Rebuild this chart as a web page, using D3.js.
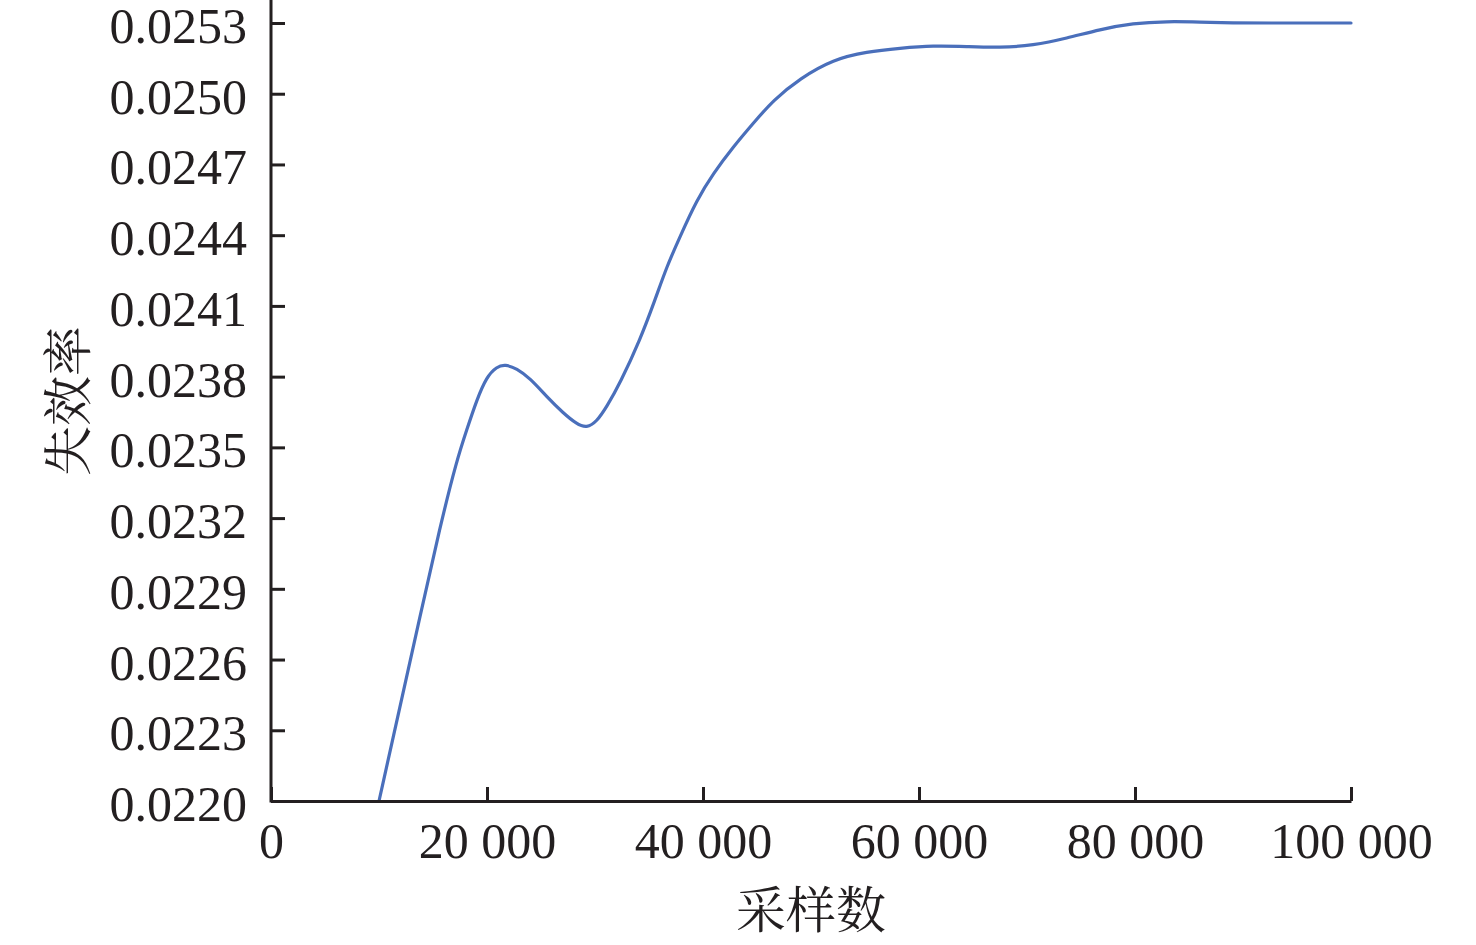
<!DOCTYPE html>
<html>
<head>
<meta charset="utf-8">
<script src="https://cdn.jsdelivr.net/npm/d3@7"></script>
<style>
  html, body { margin: 0; padding: 0; background: #fff; }
  svg { display: block; }
  .tick text { font-family: "Liberation Serif", "Times New Roman", serif; font-size: 50px; fill: #231f20; }
  .title { font-family: "Noto Serif CJK SC", "Noto Sans CJK SC", serif; font-size: 50px; fill: #231f20; }
</style>
</head>
<body>
<script>
// ---- data ----
const sampleCounts = [10000, 11944, 13796, 15648, 17194, 18120, 19046, 19972, 20898, 21667, 22750, 23981,
  25528, 27065, 28306, 29231, 30157, 31083, 32315, 34167, 35556, 36639, 37870, 39417, 40954, 42806,
  44657, 46509, 48981, 52065, 55157, 58241, 61324, 64417, 67500, 70556, 73676, 76759, 79815, 82935,
  86019, 89074, 92194, 100000];
const failureRates = [0.022000, 0.022400, 0.022782, 0.023163, 0.023445, 0.023574, 0.023701, 0.023800, 0.023842,
  0.023852, 0.023835, 0.023793, 0.023715, 0.023645, 0.023599, 0.023582, 0.023609, 0.023672, 0.023772,
  0.023955, 0.024125, 0.024266, 0.024394, 0.024549, 0.024662, 0.024775, 0.024875, 0.024973, 0.025065,
  0.025146, 0.025178, 0.025193, 0.025204, 0.025200, 0.025195, 0.025205, 0.025235, 0.025273, 0.025299,
  0.025307, 0.025304, 0.025300, 0.025300, 0.025300];
const xTickValues = [0, 20000, 40000, 60000, 80000, 100000];
const xTickLabels = ["0", "20 000", "40 000", "60 000", "80 000", "100 000"];
const yTickValues = [0.0220, 0.0223, 0.0226, 0.0229, 0.0232, 0.0235, 0.0238, 0.0241, 0.0244, 0.0247, 0.0250, 0.0253];
const yTickLabels = ["0.0220", "0.0223", "0.0226", "0.0229", "0.0232", "0.0235", "0.0238", "0.0241", "0.0244", "0.0247", "0.0250", "0.0253"];
const xTitle = "采样数";
const yTitle = "失效率";

const W = 1476, H = 945;
const mLeft = 271, mRight = 1351, mBottom = 801, mTop = 23;
const axisColor = "#231f20";
const lineColor = "#4a6fbb";

const svg = d3.select("body").append("svg").attr("width", W).attr("height", H);

const x = d3.scaleLinear().domain([0, 100000]).range([mLeft, mRight]);
const y = d3.scaleLinear().domain([0.0220, 0.0253]).range([mBottom, mTop]);

// curve
const pts = sampleCounts.map((d, i) => [d, failureRates[i]]);
const line = d3.line().x(d => x(d[0])).y(d => y(d[1])).curve(d3.curveBasis);
svg.append("path").datum(pts)
  .attr("d", line)
  .attr("fill", "none")
  .attr("stroke", lineColor)
  .attr("stroke-width", 3.2)
  .attr("stroke-linejoin", "round")
  .attr("stroke-linecap", "round");

// x axis
const xAxis = d3.axisBottom(x)
  .tickValues(xTickValues)
  .tickFormat((d, i) => xTickLabels[i])
  .tickSizeInner(-14).tickSizeOuter(0).tickPadding(21);
const gx = svg.append("g").attr("transform", `translate(0,${mBottom})`).call(xAxis);
gx.select(".domain").attr("stroke", axisColor).attr("stroke-width", 3);
gx.selectAll(".tick line").attr("stroke", axisColor).attr("stroke-width", 3);

// y axis
const yAxis = d3.axisLeft(y)
  .tickValues(yTickValues)
  .tickFormat((d, i) => yTickLabels[i])
  .tickSizeInner(-14).tickSizeOuter(0).tickPadding(24);
const gy = svg.append("g").attr("transform", `translate(${mLeft},0)`).call(yAxis);
gy.select(".domain").remove();
gy.append("line").attr("x1", 0).attr("x2", 0).attr("y1", 0).attr("y2", mBottom + 1.5)
  .attr("stroke", axisColor).attr("stroke-width", 3);
gy.selectAll(".tick line").attr("stroke", axisColor).attr("stroke-width", 3);
gy.selectAll(".tick text").attr("dy", "0.39em");

// titles
svg.append("text").attr("class", "title")
  .attr("x", (mLeft + mRight) / 2).attr("y", 928)
  .attr("text-anchor", "middle")
  .text(xTitle);
svg.append("text").attr("class", "title")
  .attr("transform", `translate(86,${401}) rotate(-90)`)
  .attr("text-anchor", "middle")
  .text(yTitle);
</script>
</body>
</html>
